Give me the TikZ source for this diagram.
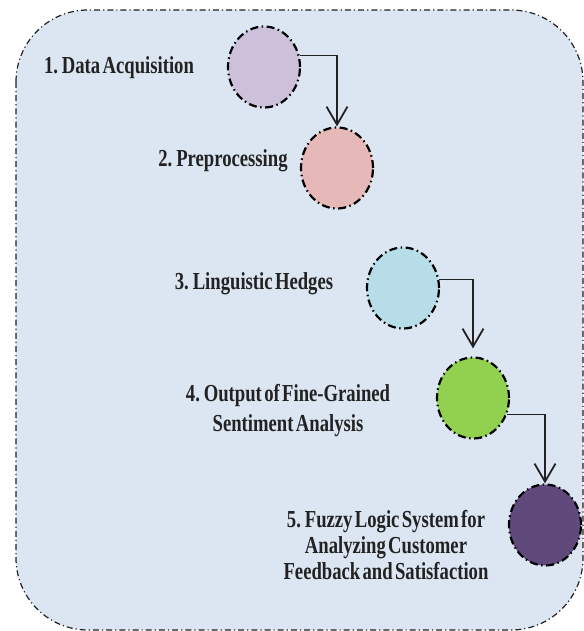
\documentclass[tikz,border=0pt]{standalone}
\usepackage{fontspec}
\newfontfamily\stagefont[FakeStretch=0.765, WordSpace=0.5]{Liberation Serif}
\usetikzlibrary{arrows.meta, shapes.geometric}
\definecolor{panelblue}{HTML}{DCE6F2}
\definecolor{stageA}{HTML}{CCC0DA}
\definecolor{stageB}{HTML}{E6B9B8}
\definecolor{stageC}{HTML}{B7DDE8}
\definecolor{stageD}{HTML}{92D050}
\definecolor{stageE}{HTML}{604A7B}
\definecolor{ink}{HTML}{222222}

\begin{document}
\begin{tikzpicture}[x=1bp, y=-1bp,
  stage/.style = {ellipse, draw=black, line width=2.2bp,
    dash pattern=on 8bp off 3.5bp on 1.5bp off 3.5bp,
    minimum width=72bp, minimum height=81bp, inner sep=0pt},
  stagelabel/.style = {font=\stagefont\bfseries\fontsize{24.5}{26}\selectfont,
    text=ink, align=center, inner sep=0pt, anchor=base},
  flow/.style = {-{Straight Barb[length=18bp,width=21bp,line width=1.8bp]},
    line width=1.3bp, draw=ink}]
  \useasboundingbox (0,0) rectangle (584,631);
  % panel
  \draw[fill=panelblue, draw=ink, line width=1.2bp,
    dash pattern=on 6bp off 3bp on 1.2bp off 3bp,
    rounded corners=72bp] (16,10) rectangle (583,630);
  % stages
  \node[stage, fill=stageA] (acq)  at (264,67)  {};
  \node[stage, fill=stageB] (prep) at (337,168) {};
  \node[stage, fill=stageC] (hedge) at (403,288) {};
  \node[stage, fill=stageD] (fine) at (473,398) {};
  \node[stage, fill=stageE] (fuzzy) at (545,525) {};
  % labels (base = last line)
  \node[stagelabel] (acqlabel)  at (119,74)  {1. Data Acquisition};
  \node[stagelabel] (preplabel) at (223,167) {2. Preprocessing};
  \node[stagelabel] (hedgelabel) at (254,289) {3. Linguistic Hedges};
  \node[stagelabel, font=\stagefont\bfseries\fontsize{24.5}{30}\selectfont]
    (finelabel) at (288,431) {4. Output of Fine-Grained\\Sentiment Analysis};
  \node[stagelabel] (fuzzylabel) at (386,579)
    {5. Fuzzy Logic System for\\Analyzing Customer\\Feedback and Satisfaction};
  % flow
  \draw[flow] (acq.18) -| (prep.north);
  \draw[flow, shorten >=8bp] (hedge.13) -| (fine.north);
  \draw[flow] (fine.-26) -| (fuzzy.north);
\end{tikzpicture}
\end{document}
